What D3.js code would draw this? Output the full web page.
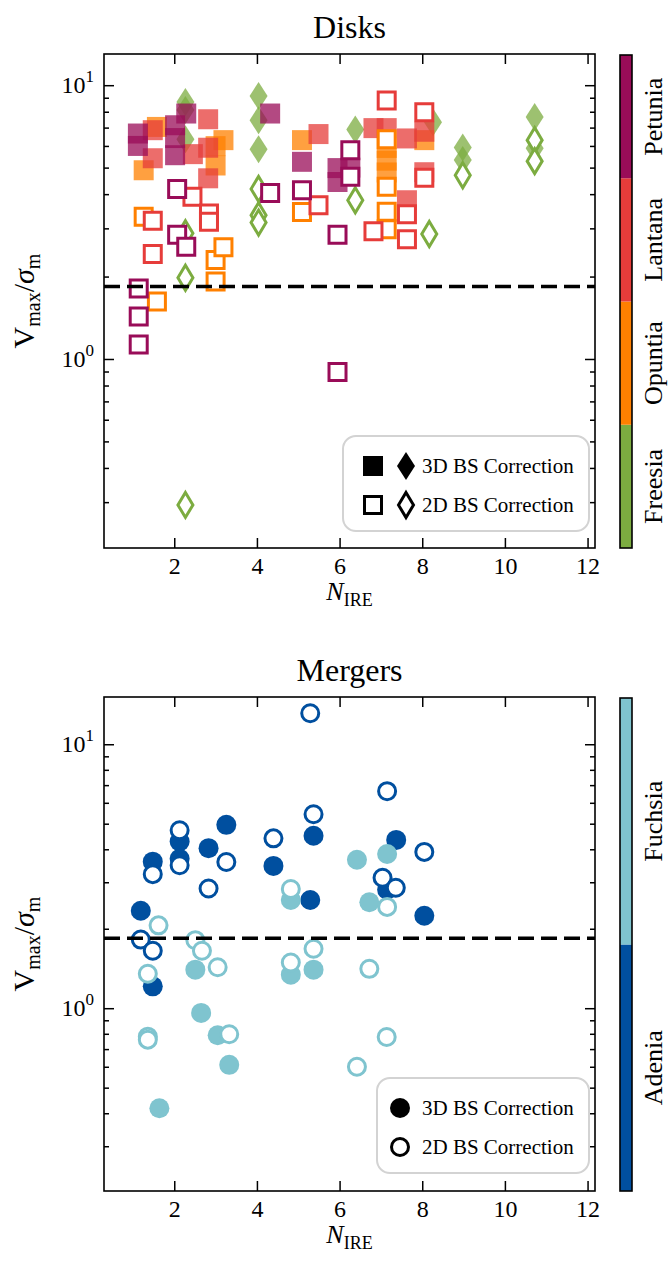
<!DOCTYPE html>
<html><head><meta charset="utf-8">
<script src="https://cdn.jsdelivr.net/npm/d3@7"></script>
<style>body{margin:0;background:#fff} svg{display:block}</style>
</head><body><svg id="c" width="670" height="1262"></svg>
<script>
// ---------------- DATA ----------------
const diskCategories = ["Freesia", "Opuntia", "Lantana", "Petunia"];
const diskColors = ["#7cac40", "#ff8000", "#e63c3a", "#990c58"];
const mergerCategories = ["Adenia", "Fuchsia"];
const mergerColors = ["#004f9f", "#7fc4cf"];
const xTicks = [2, 4, 6, 8, 10, 12];
const yMajorTicks = [1, 10];
const legendLabels = ["3D BS Correction", "2D BS Correction"];
const dashLevel = 1.84;

// [N_IRE, Vmax/sigma_m]
const freesia3D = [[2.27,8.69],[2.27,8.11],[2.27,6.35],[4.04,9.14],[4.04,7.45],[4.04,5.84],[6.38,6.89],[8.26,7.33],[8.98,5.92],[8.98,5.33],[10.72,7.66],[10.72,5.89]];
const freesia2D = [[2.27,2.88],[2.27,1.98],[2.27,0.293],[4.04,4.18],[4.04,3.35],[4.04,3.15],[6.38,3.80],[8.17,2.86],[8.98,4.69],[10.72,6.30],[10.72,5.28]];
const opuntia3D = [[1.26,4.89],[1.58,7.04],[3.00,5.99],[3.00,5.09],[3.19,6.30],[5.09,6.30],[7.14,5.90],[7.14,5.30],[7.14,4.80],[8.05,6.30]];
const opuntia2D = [[1.26,3.31],[1.58,1.62],[3.00,2.30],[3.00,1.92],[3.19,2.56],[5.09,3.44],[7.14,6.35],[7.14,4.26],[7.14,3.45],[7.14,2.98]];
const lantana3D = [[1.48,6.85],[1.48,5.41],[2.45,5.60],[2.82,7.51],[2.82,5.91],[2.82,4.57],[5.49,6.63],[6.82,6.97],[7.14,6.97],[7.63,6.39],[7.63,3.80],[8.05,6.76],[8.05,4.81]];
const lantana2D = [[1.48,3.20],[1.48,2.42],[2.44,3.91],[2.84,3.40],[2.84,3.17],[5.49,3.64],[6.82,2.93],[7.14,8.79],[7.63,3.38],[7.63,2.74],[8.05,7.97],[8.05,4.59]];
const petunia3D = [[1.12,6.66],[1.12,6.00],[2.02,7.14],[2.02,6.41],[2.02,5.55],[2.29,7.88],[4.32,7.88],[5.09,5.25],[5.95,4.98],[5.95,4.43],[6.26,5.00]];
const petunia2D = [[1.14,1.81],[1.14,1.43],[1.14,1.13],[2.07,4.18],[2.07,2.84],[2.29,2.57],[4.32,4.04],[5.09,4.13],[5.95,2.84],[5.95,0.897],[6.26,5.79],[6.26,4.63]];

const adenia3D = [[1.19,2.34],[1.48,1.21],[1.48,3.59],[2.13,4.28],[2.13,3.68],[2.83,4.04],[3.26,4.95],[4.40,3.46],[5.37,4.50],[5.29,2.57],[7.15,2.81],[7.37,4.34],[8.05,2.24]];
const adenia2D = [[1.19,1.82],[1.48,1.65],[1.48,3.22],[2.13,4.72],[2.13,3.48],[2.83,2.84],[3.26,3.58],[4.40,4.40],[5.29,13.1],[5.37,5.43],[7.04,3.12],[7.36,2.86],[7.15,6.64],[8.05,3.91]];
const fuchsia3D = [[2.51,1.40],[2.65,0.96],[3.05,0.79],[3.33,0.61],[1.64,0.418],[4.82,2.57],[4.82,1.34],[5.37,1.40],[6.42,3.65],[6.72,2.52],[7.15,3.84]];
const fuchsia2D = [[1.62,2.06],[1.36,1.35],[1.36,0.78],[1.36,0.76],[2.51,1.81],[2.67,1.65],[3.05,1.43],[3.33,0.797],[4.82,2.83],[4.82,1.49],[5.37,1.68],[6.72,1.41],[7.15,2.42],[6.42,0.60],[7.14,0.778]];

// ---------------- LAYOUT ----------------
const FONT = "'Liberation Serif','DejaVu Serif',serif";
const svg = d3.select("#c");
const L = 104, R = 595;
const x = d3.scaleLinear().domain([0.3, 12.18]).range([L, R]);

const panels = [
  { title: "Disks", top: 54, bottom: 548, yDomain: [0.204, 13.0] },
  { title: "Mergers", top: 697, bottom: 1191, yDomain: [0.203, 15.1] }
];

function minorTicks(dom) {
  const out = [];
  for (let e = -2; e <= 2; e++) for (let m = 2; m <= 9; m++) {
    const v = m * Math.pow(10, e);
    if (v >= dom[0] && v <= dom[1]) out.push(v);
  }
  return out;
}

function thinDiamond(w, h) {
  return `M0,${-h/2}L${w/2},0L0,${h/2}L${-w/2},0Z`;
}
const sqFilled = d3.symbol(d3.symbolSquare, 400)();
const sqOpen = d3.symbol(d3.symbolSquare, 17 * 17)();
const diaFilled = thinDiamond(18, 28);
const diaOpen = thinDiamond(15, 25);

function drawAxes(g, y, p) {
  g.append("rect").attr("x", L).attr("y", p.top).attr("width", R - L).attr("height", p.bottom - p.top)
    .attr("fill", "none").attr("stroke", "#000").attr("stroke-width", 1.6);
  const mins = minorTicks(y.domain());
  const addAx = (axis, tr) => {
    const a = g.append("g").attr("transform", tr).call(axis);
    a.select(".domain").remove();
    a.selectAll(".tick line").attr("stroke", "#000").attr("stroke-width", 1.5);
    return a;
  };
  const xb = addAx(d3.axisBottom(x).tickValues(xTicks).tickSize(-10).tickPadding(9).tickFormat(d3.format("d")), `translate(0,${p.bottom})`);
  xb.selectAll("text").attr("font-family", FONT).attr("font-size", 24).attr("fill", "#000");
  addAx(d3.axisTop(x).tickValues(xTicks).tickSize(-10).tickFormat(""), `translate(0,${p.top})`);
  addAx(d3.axisLeft(y).tickValues(yMajorTicks).tickSize(-10).tickFormat(""), `translate(${L},0)`);
  addAx(d3.axisRight(y).tickValues(yMajorTicks).tickSize(-10).tickFormat(""), `translate(${R},0)`);
  addAx(d3.axisLeft(y).tickValues(mins).tickSize(-5).tickFormat(""), `translate(${L},0)`);
  addAx(d3.axisRight(y).tickValues(mins).tickSize(-5).tickFormat(""), `translate(${R},0)`);
  yMajorTicks.forEach(v => {
    const t = g.append("text").attr("x", L - 10).attr("y", y(v) + 8).attr("text-anchor", "end")
      .attr("font-family", FONT).attr("font-size", 24).attr("fill", "#000");
    t.append("tspan").text("10");
    t.append("tspan").attr("font-size", 17).attr("dy", -11).text(String(Math.round(Math.log10(v))));
  });
  g.append("text").attr("x", (L + R) / 2).attr("y", p.top - 16).attr("text-anchor", "middle")
    .attr("font-family", FONT).attr("font-size", 32).text(p.title);
  const xl = g.append("text").attr("x", (L + R) / 2).attr("y", p.bottom + 52).attr("text-anchor", "middle")
    .attr("font-family", FONT).attr("font-size", 26);
  xl.append("tspan").attr("font-style", "italic").text("N");
  xl.append("tspan").attr("font-size", 18).attr("dy", 6).text("IRE");
  const cy = (p.top + p.bottom) / 2;
  const yl = g.append("text").attr("transform", `translate(34,${cy}) rotate(-90)`).attr("text-anchor", "middle")
    .attr("font-family", FONT).attr("font-size", 30);
  yl.append("tspan").text("V");
  yl.append("tspan").attr("font-size", 20).attr("dy", 6).text("max");
  yl.append("tspan").attr("dy", -6).text("/");
  yl.append("tspan").attr("font-style", "italic").text("σ");
  yl.append("tspan").attr("font-size", 20).attr("dy", 6).text("m");
  g.append("line").attr("x1", L).attr("x2", R).attr("y1", y(dashLevel)).attr("y2", y(dashLevel))
    .attr("stroke", "#000").attr("stroke-width", 3.5).attr("stroke-dasharray", "16,7");
}

function drawMarks(g, y, data, shape, color, filled, opacity) {
  g.selectAll(null).data(data).enter().append("path")
    .attr("d", shape)
    .attr("transform", d => `translate(${x(d[0])},${y(d[1])})`)
    .attr("fill", filled ? color : "#fff")
    .attr("fill-opacity", filled ? opacity : 1)
    .attr("stroke", filled ? "none" : color)
    .attr("stroke-width", filled ? 0 : 3);
}

function drawLegend(g, bx, by, bw, bh, rows) {
  g.append("rect").attr("x", bx).attr("y", by).attr("width", bw).attr("height", bh).attr("rx", 13)
    .attr("fill", "#fff").attr("fill-opacity", 0.85).attr("stroke", "#d3d3d3").attr("stroke-width", 2);
  rows.forEach((r, i) => {
    const yy = by + 30 + i * 39;
    r.shapes.forEach(s => {
      g.append("path").attr("d", s.d).attr("transform", `translate(${s.x},${yy})`)
        .attr("fill", r.filled ? "#000" : "#fff").attr("stroke", r.filled ? "none" : "#000")
        .attr("stroke-width", r.filled ? 0 : 3);
    });
    g.append("text").attr("x", 422).attr("y", yy + 7).attr("font-family", FONT).attr("font-size", 21)
      .text(r.label);
  });
}

function drawColorbar(g, top, bottom, cats, cols) {
  const s = d3.scaleLinear().domain([0, cats.length]).range([bottom, top]);
  cats.forEach((c, i) => {
    g.append("rect").attr("x", 620).attr("width", 12)
      .attr("y", s(i + 1)).attr("height", s(i) - s(i + 1)).attr("fill", cols[i]);
    g.append("text").attr("transform", `translate(653,${s(i + 0.5)}) rotate(-90)`)
      .attr("text-anchor", "middle").attr("dominant-baseline", "central")
      .attr("font-family", FONT).attr("font-size", 26).text(c);
  });
  g.append("rect").attr("x", 620).attr("y", top).attr("width", 12).attr("height", bottom - top)
    .attr("fill", "none").attr("stroke", "#000").attr("stroke-width", 1.6);
}

// ---------- Top: Disks ----------
{
  const p = panels[0];
  const g = svg.append("g");
  const y = d3.scaleLog().domain(p.yDomain).range([p.bottom, p.top]);
  const filledSets = [freesia3D, opuntia3D, lantana3D, petunia3D];
  const openSets = [freesia2D, opuntia2D, lantana2D, petunia2D];
  filledSets.forEach((d, i) => drawMarks(g, y, d, i === 0 ? diaFilled : sqFilled, diskColors[i], true, 0.75));
  openSets.forEach((d, i) => drawMarks(g, y, d, i === 0 ? diaOpen : sqOpen, diskColors[i], false));
  drawAxes(g, y, p);
  drawLegend(g, 343, 436, 246, 95, [
    { label: legendLabels[0], filled: true, shapes: [{ d: sqFilled, x: 373 }, { d: diaFilled, x: 406 }] },
    { label: legendLabels[1], filled: false, shapes: [{ d: sqOpen, x: 373 }, { d: diaOpen, x: 406 }] }
  ]);
  drawColorbar(g, 55, 548, diskCategories, diskColors);
}

// ---------- Bottom: Mergers ----------
{
  const p = panels[1];
  const g = svg.append("g");
  const y = d3.scaleLog().domain(p.yDomain).range([p.bottom, p.top]);
  const cF = d3.symbol(d3.symbolCircle, Math.PI * 10 * 10)();
  const cO = d3.symbol(d3.symbolCircle, Math.PI * 8.5 * 8.5)();
  drawMarks(g, y, adenia3D, cF, mergerColors[0], true, 1);
  drawMarks(g, y, fuchsia3D, cF, mergerColors[1], true, 1);
  drawMarks(g, y, adenia2D, cO, mergerColors[0], false);
  drawMarks(g, y, fuchsia2D, cO, mergerColors[1], false);
  drawAxes(g, y, p);
  drawLegend(g, 377, 1078, 212, 95, [
    { label: legendLabels[0], filled: true, shapes: [{ d: cF, x: 400 }] },
    { label: legendLabels[1], filled: false, shapes: [{ d: cO, x: 400 }] }
  ]);
  drawColorbar(g, 698, 1191, mergerCategories, mergerColors);
}
</script></body></html>
